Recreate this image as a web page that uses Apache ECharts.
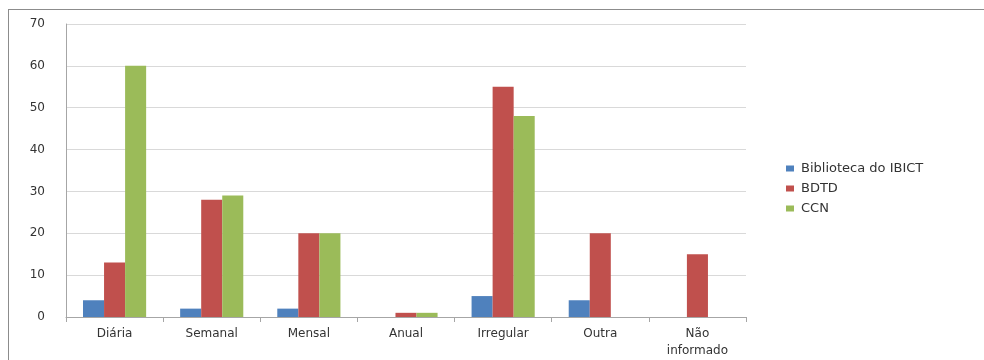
<!DOCTYPE html>
<html>
<head>
<meta charset="utf-8">
<script src="https://cdn.jsdelivr.net/npm/echarts@6/dist/echarts.min.js"></script>
<style>
  html, body { margin: 0; padding: 0; background: #fff; }
  #frame { position: absolute; left: 8px; top: 9px; width: 990px; height: 360px;
           border-left: 1px solid #8c8c8c; border-top: 1px solid #8c8c8c; }
  #chart { position: absolute; left: 0; top: 0; width: 984px; height: 360px; }
</style>
</head>
<body>
<div id="frame"></div>
<div id="chart"></div>
<script>
// categorias e valores
const categorias = ['Diária', 'Semanal', 'Mensal', 'Anual', 'Irregular', 'Outra', 'Não\ninformado'];
const ibict = [4, 2, 2, 0, 5, 4, 0];
const bdtd = [13, 28, 20, 1, 55, 20, 15];
const ccn = [60, 29, 20, 1, 48, 0, 0];

const myChart = echarts.init(document.getElementById('chart'));

const option = {
    animation: false,
    textStyle: { fontFamily: 'DejaVu Sans' },
    legend: {
        orient: 'vertical',
        left: 781,
        top: 157,
        itemWidth: 8,
        itemHeight: 6,
        itemGap: 7,
        icon: 'rect',
        textStyle: { fontSize: 13, color: '#333', fontFamily: 'DejaVu Sans', padding: [0, 0, 0, 2] },
        data: ['Biblioteca do IBICT', 'BDTD', 'CCN']
    },
    grid: {
        left: 66,
        top: 24,
        width: 680,
        height: 293
    },
    xAxis: {
        type: 'category',
        data: categorias,
        axisTick: { show: true, alignWithLabel: false, length: 5, lineStyle: { color: '#a6a6a6' } },
        axisLine: { lineStyle: { color: '#a6a6a6' } },
        axisLabel: { color: '#333', fontSize: 12, margin: 8, lineHeight: 17 }
    },
    yAxis: {
        type: 'value',
        min: 0,
        max: 70,
        interval: 10,
        axisLine: { show: true, lineStyle: { color: '#a6a6a6' } },
        axisTick: { show: false },
        axisLabel: { color: '#333', fontSize: 12, margin: 21 },
        splitLine: { lineStyle: { color: '#d9d9d9' } }
    },
    series: [{
        name: 'Biblioteca do IBICT',
        type: 'bar',
        data: ibict,
        barGap: '0%',
        barCategoryGap: '35%',
        itemStyle: { color: '#4f81bd' }
    }, {
        name: 'BDTD',
        type: 'bar',
        data: bdtd,
        itemStyle: { color: '#c0504d' }
    }, {
        name: 'CCN',
        type: 'bar',
        data: ccn,
        itemStyle: { color: '#9bbb59' }
    }]
};

myChart.setOption(option);
</script>
</body>
</html>
